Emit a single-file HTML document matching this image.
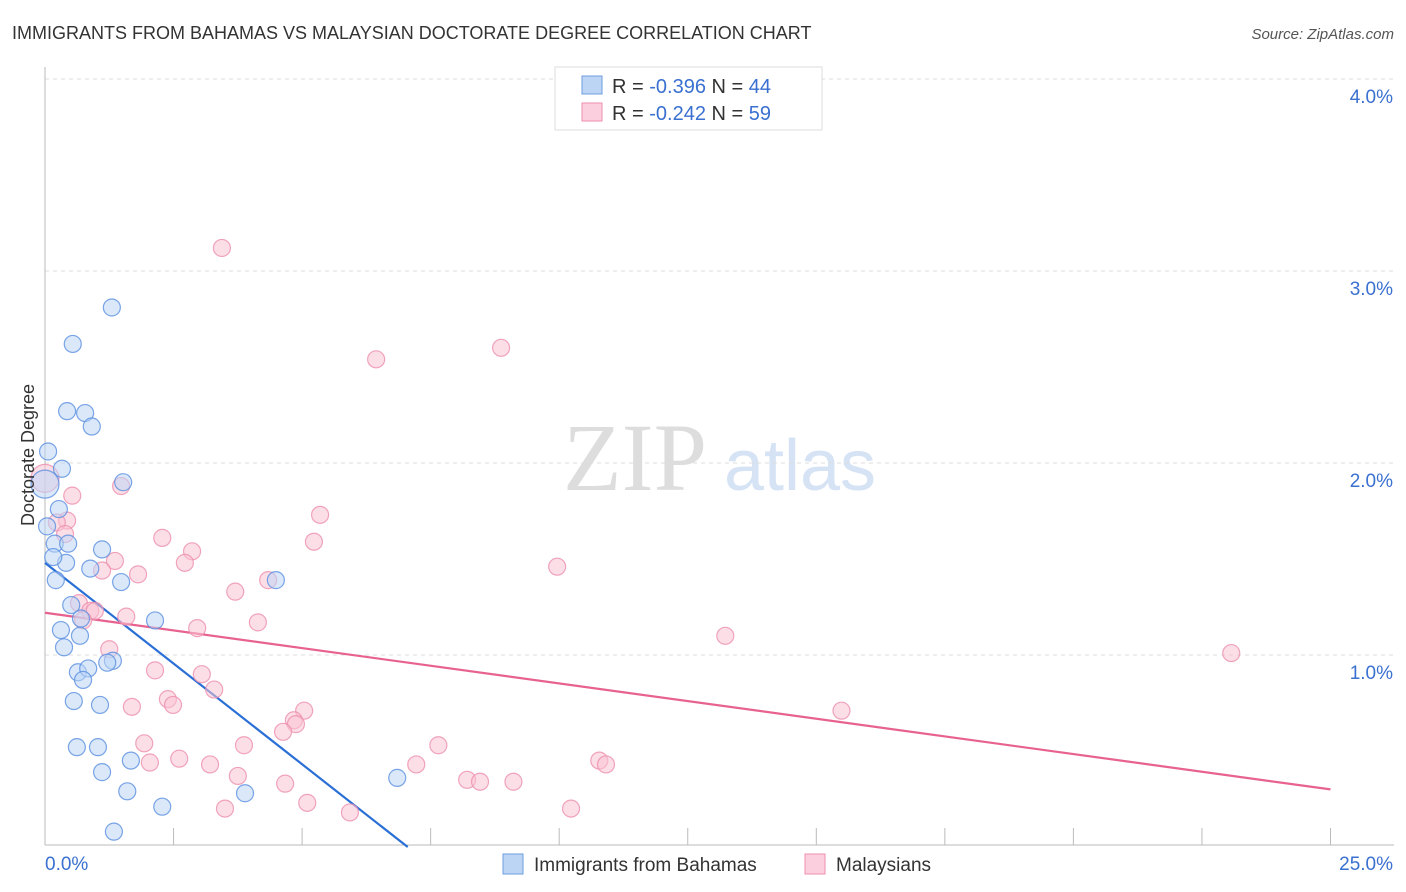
<!DOCTYPE html>
<html><head><meta charset="utf-8"><style>
body{margin:0;background:#fff;font-family:"Liberation Sans",sans-serif;}
</style></head><body>
<svg id="chart" width="1406" height="892" style="display:block">
<text x="12" y="39" font-size="18" fill="#333">IMMIGRANTS FROM BAHAMAS VS MALAYSIAN DOCTORATE DEGREE CORRELATION CHART</text>
<text x="1394" y="39" font-size="15" fill="#555" font-style="italic" text-anchor="end">Source: ZipAtlas.com</text>
<g>
<text x="635" y="490" font-size="96" fill="#ddd" font-family="Liberation Serif,serif" text-anchor="middle">ZIP</text>
<text x="800" y="490" font-size="72" fill="#d5e3f5" text-anchor="middle">atlas</text>
</g>
<g id="grid"></g><g id="axes"></g><g id="lines"></g><g id="points"></g>
<text x="34" y="455" font-size="18" fill="#333" text-anchor="middle" transform="rotate(-90 34 455)">Doctorate Degree</text>
<g>
<rect x="555" y="67" width="267" height="63" fill="#fff" stroke="#ddd"/>
<rect x="582" y="76" width="20" height="18" fill="#bcd5f5" stroke="#6b9de0"/>
<rect x="582" y="103" width="20" height="18" fill="#fbcfdd" stroke="#ef8fb0"/>
<text x="612" y="93" font-size="20" fill="#333">R = <tspan fill="#3a70d0">-0.396</tspan>   N = <tspan fill="#3a70d0">44</tspan></text>
<text x="612" y="120" font-size="20" fill="#333">R = <tspan fill="#3a70d0">-0.242</tspan>   N = <tspan fill="#3a70d0">59</tspan></text>
</g>
<g>
<rect x="503" y="854" width="20" height="20" fill="#bcd5f5" stroke="#6b9de0"/>
<text x="534" y="871" font-size="19" fill="#333">Immigrants from Bahamas</text>
<rect x="805" y="854" width="20" height="20" fill="#fbcfdd" stroke="#ef8fb0"/>
<text x="836" y="871" font-size="19" fill="#333">Malaysians</text>
</g>
</svg>
<script>
const yTicks=[1,2,3,4];
const yTickLabels=["1.0%","2.0%","3.0%","4.0%"];
const xTickLabels=["0.0%","25.0%"];
const blueX=[1.30,0.54,0.43,0.78,0.91,0.06,0.33,0.0,1.52,0.27,0.04,0.19,0.45,1.11,0.41,0.88,0.21,1.48,4.49,0.51,0.70,2.14,0.31,0.68,0.37,0.64,0.84,1.32,1.21,0.74,0.56,1.07,0.62,1.03,1.11,1.67,1.60,2.28,3.89,6.85,1.34,0.16];
const blueY=[2.81,2.62,2.27,2.26,2.19,2.06,1.97,1.89,1.90,1.76,1.67,1.58,1.58,1.55,1.48,1.45,1.39,1.38,1.39,1.26,1.19,1.18,1.13,1.10,1.04,0.91,0.93,0.97,0.96,0.87,0.76,0.74,0.52,0.52,0.39,0.45,0.29,0.21,0.28,0.36,0.08,1.51];
const pinkX=[3.44,6.44,8.87,0.53,1.48,0.43,0.23,5.35,2.28,5.23,0.39,2.86,1.36,2.72,1.11,1.81,9.96,4.34,3.70,0.66,0.88,0.97,1.58,0.74,4.14,2.96,1.25,13.23,23.07,2.14,3.05,3.29,2.39,2.49,1.69,5.04,15.49,4.84,4.88,4.63,1.93,3.87,7.65,2.61,2.04,3.21,10.78,10.91,7.22,3.75,8.21,8.46,9.11,4.67,5.10,3.50,5.93,10.23,0.0];
const pinkY=[3.12,2.54,2.60,1.83,1.88,1.70,1.69,1.73,1.61,1.59,1.63,1.54,1.49,1.48,1.44,1.42,1.46,1.39,1.33,1.27,1.23,1.23,1.20,1.18,1.17,1.14,1.03,1.10,1.01,0.92,0.90,0.82,0.77,0.74,0.73,0.71,0.71,0.66,0.64,0.60,0.54,0.53,0.53,0.46,0.44,0.43,0.45,0.43,0.43,0.37,0.35,0.34,0.34,0.33,0.23,0.20,0.18,0.20,1.92];
const blueTrend=[1.48,-0.2098]; // intercept, slope
const pinkTrend=[1.22,-0.0368];
const X=v=>45+v*51.42, Y=v=>847-v*192;
const NS="http://www.w3.org/2000/svg";
function mk(parent,tag,attrs){const e=document.createElementNS(NS,tag);for(const k in attrs)e.setAttribute(k,attrs[k]);document.getElementById(parent).appendChild(e);return e;}
yTicks.forEach((t,i)=>{
 const l=mk('grid','line',{x1:45,x2:1394,y1:Y(t),y2:Y(t),stroke:'#ddd','stroke-dasharray':'4,4'});
 
 
 const tx=mk('grid','text',{x:1393,y:Y(t)+24,'font-size':19,fill:'#3a70d0','text-anchor':'end'});
 tx.textContent=yTickLabels[i];
 
 
});
const g0=mk('grid','line',{x1:45,x2:1394,y1:79,y2:79,stroke:'#ddd','stroke-dasharray':'4,4'});


const ya=mk('axes','line',{x1:45,x2:45,y1:67,y2:845,stroke:'#bbb'});


const xa=mk('axes','line',{x1:45,x2:1394,y1:845,y2:845,stroke:'#bbb'});


for(let i=1;i<=10;i++){const t=mk('axes','line',{x1:X(i*2.5),x2:X(i*2.5),y1:828,y2:845,stroke:'#bbb'});
 
 }
const xl0=mk('axes','text',{x:45,y:870,'font-size':19,fill:'#3a70d0'});xl0.textContent=xTickLabels[0];


const xl1=mk('axes','text',{x:1393,y:870,'font-size':19,fill:'#3a70d0','text-anchor':'end'});xl1.textContent=xTickLabels[1];


function pts(xs,ys,fill,stroke,name){xs.forEach((x,i)=>{
 const big=(x===0);
 const c=mk('points','circle',{cx:X(x),cy:Y(ys[i]),r:big?14:8.5,fill:fill,'fill-opacity':0.55,stroke:stroke,'stroke-width':1.2,'stroke-opacity':0.8});
 
 
});}
pts(pinkX,pinkY,'#f9c3d4','#ec8fae','malaysians-point');
pts(blueX,blueY,'#bcd5f5','#5a8ee0','bahamas-point');
const bx2=-blueTrend[0]/blueTrend[1];
const bl=mk('lines','line',{x1:X(0),y1:Y(blueTrend[0]),x2:X(bx2),y2:Y(0),stroke:'#2a6fd6','stroke-width':2.2});


const pl=mk('lines','line',{x1:X(0),y1:Y(pinkTrend[0]),x2:X(25),y2:Y(pinkTrend[0]+pinkTrend[1]*25),stroke:'#e8628f','stroke-width':2.2});


</script>
</body></html>
